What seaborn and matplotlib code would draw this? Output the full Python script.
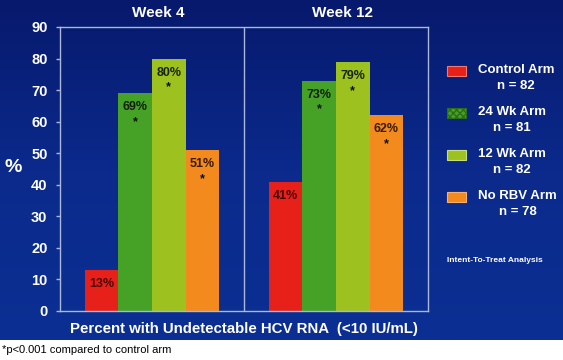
import numpy as np
import pandas as pd
import matplotlib
matplotlib.use("Agg")
import matplotlib.pyplot as plt
import seaborn as sns
from matplotlib.patches import Rectangle
from matplotlib.colors import LinearSegmentedColormap
from matplotlib.legend_handler import HandlerPatch

# data
weeks = ["Week 4", "Week 12"]
arms = ["Control Arm", "24 Wk Arm", "12 Wk Arm", "No RBV Arm"]
arm_n = [82, 81, 82, 78]
week4_pct = [13, 69, 80, 51]
week12_pct = [41, 73, 79, 62]
significant = [False, True, True, True]  # * p<0.001 vs control
arm_colors = ["#E8201A", "#46A226", "#9DC21F", "#F28A1E"]

df = pd.DataFrame({
    "week": np.repeat(weeks, len(arms)),
    "arm": arms * len(weeks),
    "pct": week4_pct + week12_pct,
})

sns.set_theme(style="white")
plt.rcParams["font.family"] = ["Liberation Sans", "DejaVu Sans"]
plt.rcParams["font.weight"] = "bold"

line_col = "#A9B8DC"
W, H = 563, 360
fig = plt.figure(figsize=(W / 100, H / 100), dpi=100)
fig.patch.set_facecolor("white")

# blue slide background with a soft vertical gradient
bg = fig.add_axes([0, 20 / H, 1, 1 - 20 / H], zorder=-10)
cmap = LinearSegmentedColormap.from_list("slide", ["#07196C", "#0B2A8C", "#0C2F93"])
bg.imshow(np.linspace(0, 1, 256).reshape(-1, 1), aspect="auto", cmap=cmap,
          extent=[0, 1, 0, 1])
bg.set_axis_off()

ax = fig.add_axes([60 / W, 1 - 311 / H, 368 / W, 284 / H])
ax.set_facecolor("none")

sns.barplot(data=df, x="week", y="pct", hue="arm", order=weeks, hue_order=arms,
            palette=arm_colors, saturation=1, width=0.73, linewidth=0, ax=ax)
handles, _ = ax.get_legend_handles_labels()
ax.get_legend().remove()

ax.set_xlim(-0.5, 1.5)
ax.set_ylim(0, 90)
ax.set_yticks(range(0, 91, 10))
ax.tick_params(axis="y", colors=line_col, labelcolor="white", labelsize=10.5,
               length=3, width=1, pad=6, left=True)
for t in ax.get_yticklabels():
    t.set_fontweight("bold")
ax.set_xticks([])
ax.set_ylabel("")
ax.set_xlabel("Percent with Undetectable HCV RNA  (<10 IU/mL)", color="white",
              fontsize=10.8, fontweight="bold", labelpad=8)
for s in ax.spines.values():
    s.set_visible(True)
    s.set_color(line_col)
    s.set_linewidth(1)
ax.axvline(0.5, color=line_col, lw=1)

# week headers
for i, wk in enumerate(weeks):
    ax.annotate(wk, xy=(i, 1), xycoords=("data", "axes fraction"),
                xytext=(6, 14), textcoords="offset pixels", ha="center",
                va="center", color="white", fontsize=11, fontweight="bold")

# value labels and significance stars inside bars
label_cols = ["#4A0A08", "#10200A", "#1A2208", "#3A1A04"]
for k, cont in enumerate(ax.containers):
    for bar in cont:
        h = bar.get_height()
        xc = bar.get_x() + bar.get_width() / 2
        ax.annotate(f"{h:.0f}%", xy=(xc, h), xytext=(0, -14),
                    textcoords="offset pixels", ha="center", va="center",
                    fontsize=9, fontweight="bold", color=label_cols[k])
        if significant[k]:
            ax.annotate("*", xy=(xc, h), xytext=(0, -29),
                        textcoords="offset pixels", ha="center", va="center",
                        fontsize=9, fontweight="bold", color="#101010")


# legend: swatch sits next to the first line of each two-line label
def top_swatch(legend, orig_handle, xdescent, ydescent, width, height, fontsize):
    sh = 0.75 * fontsize
    return Rectangle((-xdescent, -ydescent + height - sh), width, sh)


labels = [f"{a}\nn = {n}" for a, n in zip(arms, arm_n)]
handles[1].set_hatch("xxxxx")
handles[1].set_edgecolor("#2C6E16")
for hd in handles:
    hd.set_linewidth(0.8)
handles[0].set_edgecolor("#F07A70")
handles[2].set_edgecolor("#C8DC80")
handles[3].set_edgecolor("#F8B070")
leg = fig.legend(handles, labels, loc="upper left",
                 bbox_to_anchor=(447 / W, 1 - 64 / H), frameon=False,
                 borderpad=0, borderaxespad=0,
                 handlelength=1.45, handleheight=2.55, handletextpad=0.9,
                 labelspacing=1.05, prop={"size": 9.5, "weight": "bold"},
                 handler_map={hd: HandlerPatch(patch_func=top_swatch) for hd in handles})
for t in leg.get_texts():
    t.set_color("white")
    t.set_multialignment("center")
    t.set_linespacing(1.45)

fig.text(447 / W, 1 - 260 / H, "Intent-To-Treat Analysis", color="white",
         fontsize=6, fontweight="bold", va="center")
fig.text(13 / W, 1 - 167 / H, "%", color="white", fontsize=14,
         fontweight="bold", ha="center", va="center")
fig.text(2 / W, 1 - 350 / H, "*p<0.001 compared to control arm", color="black",
         fontsize=8, fontweight="normal", va="center")

fig.savefig("out.png", dpi=100)
